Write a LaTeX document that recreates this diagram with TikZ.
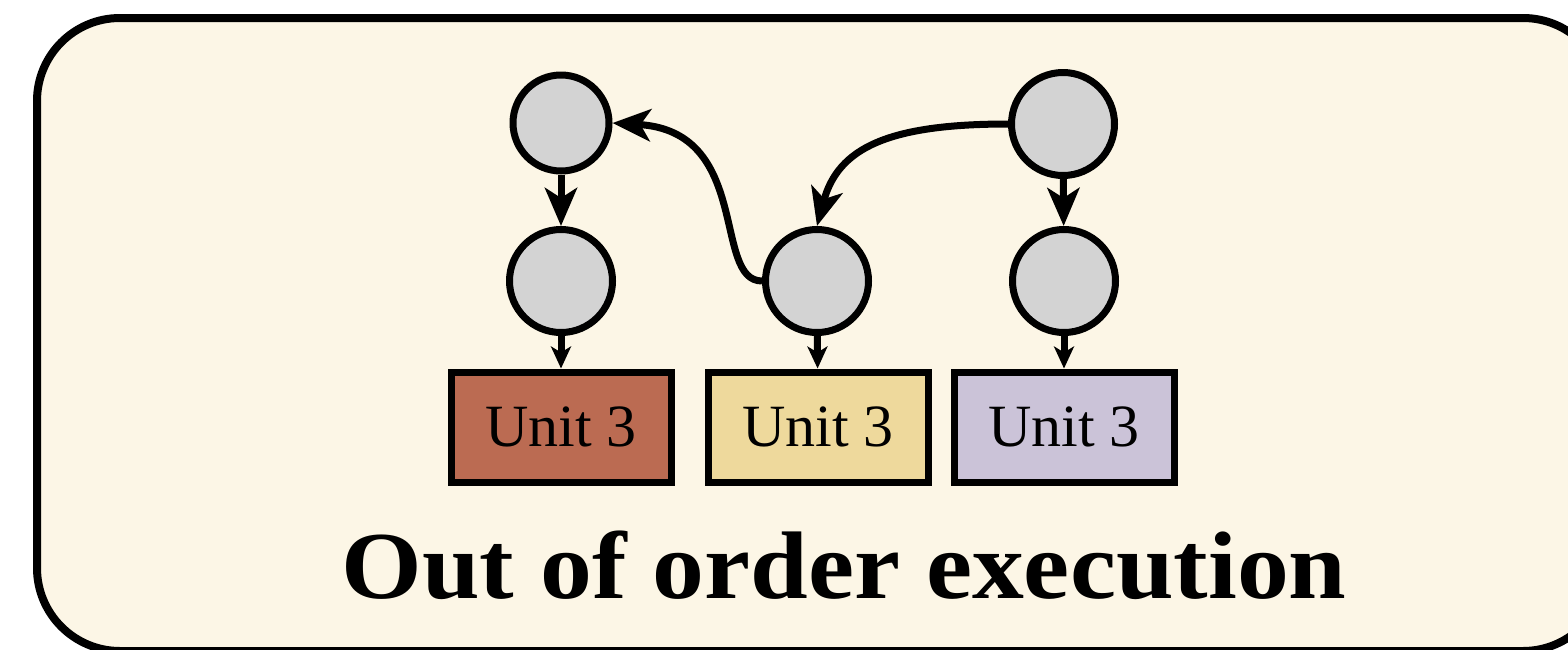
\documentclass[tikz,border=0pt]{standalone}
\usepackage{fontspec}
\setmainfont{Liberation Serif}
\usetikzlibrary{arrows.meta}
\definecolor{panelbg}{HTML}{FCF6E6}
\definecolor{nodegray}{HTML}{D3D3D3}
\definecolor{unitred}{HTML}{BB6B52}
\definecolor{unityellow}{HTML}{EED99C}
\definecolor{unitlilac}{HTML}{CBC3D8}
\tikzset{
  task/.style={circle, draw=black, line width=3.5pt, fill=nodegray,
    inner sep=0pt, minimum size=51.5pt},
  smalltask/.style={task, minimum size=48pt},
  unitbox/.style={draw=black, line width=3.5pt, inner sep=0pt,
    minimum width=110pt, minimum height=55pt,
    font=\fontsize{30}{36}\selectfont},
  dep/.style={line width=3.5pt,
    -{Stealth[length=19pt, width=16pt, inset=5pt]}},
  issue/.style={line width=3.5pt,
    -{Stealth[length=11pt, width=10pt, inset=3pt]}},
}
\begin{document}
\begin{tikzpicture}[x=0.5pt, y=-0.5pt]
  \useasboundingbox (0,0) rectangle (1568,649);
  \clip (0,0) rectangle (1568,649);

  % panel
  \draw[line width=4pt, fill=panelbg, rounded corners=41.5pt]
    (37,18) rectangle (1606,651);

  % instructions
  \node[smalltask] (c1) at (561,123) {};
  \node[task] (c2) at (561,281) {};
  \node[task] (c3) at (817,281) {};
  \node[task] (c4) at (1063,124) {};
  \node[task] (c5) at (1064,281) {};

  % execution units
  \node[unitbox, fill=unitred]    (b1) at (561,427) {Unit 3};
  \node[unitbox, fill=unityellow] (b2) at (818,427) {Unit 3};
  \node[unitbox, fill=unitlilac]  (b3) at (1064,427) {Unit 3};

  % dependencies
  \draw[dep] (c1) -- (c2);
  \draw[dep] (c4) -- (c5);
  \draw[dep] (c3.west) .. controls +(-50,0) and +(140,8) .. (c1.east);
  \draw[dep] (c4.west) .. controls +(-120,0) and +(21,-78) .. (c3.north);

  % dispatch to units
  \draw[issue] (c2) -- (b1);
  \draw[issue] (c3) -- (b2);
  \draw[issue] (c5) -- (b3);

  % caption
  \node[anchor=base, font=\bfseries\fontsize{48}{56}\selectfont]
    (title) at (844,598) {\scalebox{1.08}[1]{Out of order execution}};
\end{tikzpicture}
\end{document}
